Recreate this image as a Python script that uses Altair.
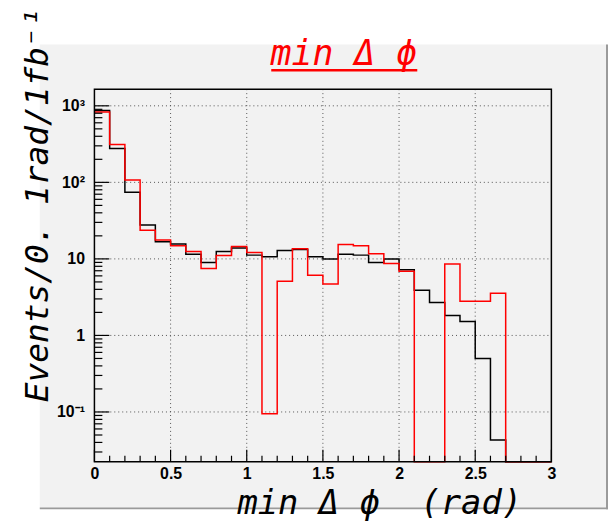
import altair as alt
import pandas as pd

# ---- data (bin width 0.1 rad, 0..3) ----
bin_edges = [0.0, 0.1, 0.2, 0.3, 0.4, 0.5, 0.6, 0.7, 0.8, 0.9, 1.0, 1.1, 1.2, 1.3, 1.4,
             1.5, 1.6, 1.7, 1.8, 1.9, 2.0, 2.1, 2.2, 2.3, 2.4, 2.5, 2.6, 2.7, 2.8, 2.9, 3.0]
black_vals = [870, 277, 74, 27.7, 16.8, 15.7, 11.5, 9.0, 12.5, 13.9, 11.2, 10.7, 12.9, 13.3, 10.7,
              10.0, 11.5, 11.2, 9.0, 10.0, 7.2, 3.9, 2.7, 1.82, 1.52, 0.50, 0.043, 0, 0, 0]
red_vals = [830, 312, 107, 23.6, 17.7, 14.9, 12.5, 7.5, 11.1, 14.5, 12.1, 0.095, 5.1, 13.6, 6.1,
            4.7, 15.4, 14.9, 11.7, 8.7, 6.9, 0, 0, 8.6, 2.8, 2.8, 3.56, 0, 0, 0]

x_major = [0, 0.5, 1, 1.5, 2, 2.5, 3]
x_minor = [0.1, 0.2, 0.3, 0.4, 0.6, 0.7, 0.8, 0.9, 1.1, 1.2, 1.3, 1.4, 1.6, 1.7, 1.8, 1.9,
           2.1, 2.2, 2.3, 2.4, 2.6, 2.7, 2.8, 2.9]
y_major = [0.1, 1, 10, 100, 1000]
y_minor = [0.03, 0.04, 0.05, 0.06, 0.07, 0.08, 0.09,
           0.2, 0.3, 0.4, 0.5, 0.6, 0.7, 0.8, 0.9,
           2, 3, 4, 5, 6, 7, 8, 9,
           20, 30, 40, 50, 60, 70, 80, 90,
           200, 300, 400, 500, 600, 700, 800, 900]

YMIN, YMAX = 0.0224, 1650
W, H = 460, 375
TITLE_FONT = "DejaVu Sans Mono"
LABEL_FONT = "Liberation Sans"
NB = "\u00a0"

rows = []
for name, vals in (("black", black_vals), ("red", red_vals)):
    for i, e in enumerate(bin_edges):
        v = vals[i] if i < len(vals) else vals[-1]
        rows.append({"x": e, "v": v, "series": name})
df = pd.DataFrame(rows)

xscale = alt.Scale(domain=[0, 3], nice=False, zero=False)
yscale = alt.Scale(type="log", domain=[YMIN, YMAX], nice=False)
one = alt.Data(values=[{"a": 1}])

label_expr = ("datum.value == 1000 ? '10\u00b3' : datum.value == 100 ? '10\u00b2' : "
              "datum.value == 10 ? '10' : datum.value == 1 ? '1' : '10\u207b\u00b9'")

xaxis = alt.Axis(
    values=x_major, format="~g", grid=False, ticks=False, domain=False, zindex=1,
    labelFont=LABEL_FONT, labelFontWeight="bold", labelFontSize=16, labelColor="black",
    labelPadding=4, labelFlush=False, labelOverlap=False,
    title=f"min{NB}\u0394{NB}\u03d5{NB}{NB}(rad)", titleFont=TITLE_FONT, titleFontStyle="italic",
    titleFontWeight="normal", titleFontSize=34, titleColor="black",
    titleX=430, titleY=52, titleAlign="right", titleBaseline="alphabetic")
yaxis = alt.Axis(
    values=y_major, grid=False, ticks=False, domain=False, zindex=1,
    labelFont=LABEL_FONT, labelFontWeight="bold", labelFontSize=16, labelColor="black",
    labelPadding=10, labelOverlap=False, labelExpr=label_expr,
    title="Events/0. 1rad/1fb\u207b\u00b9", titleFont=TITLE_FONT, titleFontStyle="italic",
    titleFontWeight="normal", titleFontSize=33, titleColor="black",
    titleX=-47, titleY=116, titleAngle=270, titleAlign="center",
    titleBaseline="alphabetic")

# background panel
panel = alt.Chart(one).mark_rect(color="#f2f2f2").encode(
    x=alt.value(-55), x2=alt.value(516), y=alt.value(-45), y2=alt.value(422))
panel_r = alt.Chart(one).mark_rule(color="#9a9a9a", strokeWidth=2).encode(
    x=alt.value(516), y=alt.value(-45), y2=alt.value(423))
panel_b = alt.Chart(one).mark_rule(color="#9a9a9a", strokeWidth=2).encode(
    x=alt.value(-55), x2=alt.value(517), y=alt.value(422))

# grid
xgrid = alt.Chart(pd.DataFrame({"x": x_major[1:-1]})).mark_rule(
    color="#555555", strokeDash=[1, 3], strokeWidth=1).encode(
    x=alt.X("x:Q", scale=xscale, axis=xaxis), y=alt.value(0), y2=alt.value(H))
ygrid = alt.Chart(pd.DataFrame({"yv": y_major})).mark_rule(
    color="#555555", strokeDash=[1, 3], strokeWidth=1).encode(
    y=alt.Y("yv:Q", scale=yscale, axis=yaxis), x=alt.value(0), x2=alt.value(W))

hist = alt.Chart(df).transform_calculate(
    yv=f"max(datum.v, {YMIN})"
).mark_line(interpolate="step-after", strokeWidth=1.5).encode(
    x=alt.X("x:Q", scale=xscale, axis=xaxis),
    y=alt.Y("yv:Q", scale=yscale, axis=yaxis),
    color=alt.Color("series:N", scale=alt.Scale(domain=["black", "red"],
                                                 range=["#000000", "#ff0000"]), legend=None),
)

# inner ticks (ROOT style)
yt_major = alt.Chart(pd.DataFrame({"yv": y_major})).mark_rule(color="black", strokeWidth=1.2).encode(
    y=alt.Y("yv:Q", scale=yscale, axis=yaxis), x=alt.value(0), x2=alt.value(15))
yt_minor = alt.Chart(pd.DataFrame({"yv": y_minor})).mark_rule(color="black", strokeWidth=1.2).encode(
    y=alt.Y("yv:Q", scale=yscale, axis=yaxis), x=alt.value(0), x2=alt.value(8))
xt_major = alt.Chart(pd.DataFrame({"x": x_major})).mark_rule(color="black", strokeWidth=1.2).encode(
    x=alt.X("x:Q", scale=xscale, axis=xaxis), y=alt.value(H), y2=alt.value(H - 12))
xt_minor = alt.Chart(pd.DataFrame({"x": x_minor})).mark_rule(color="black", strokeWidth=1.2).encode(
    x=alt.X("x:Q", scale=xscale, axis=xaxis), y=alt.value(H), y2=alt.value(H - 6))

frame = alt.Chart(one).mark_rect(fill=None, stroke="black", strokeWidth=1.5).encode(
    x=alt.value(0), x2=alt.value(W), y=alt.value(0), y2=alt.value(H))

title = alt.Chart(one).mark_text(
    text=f"min{NB}\u0394{NB}\u03d5", color="#ff0000", font=TITLE_FONT, fontStyle="italic",
    fontSize=35, align="center", baseline="alphabetic").encode(
    x=alt.value(251), y=alt.value(-24))
underline = alt.Chart(one).mark_rule(color="#ff0000", strokeWidth=2.5).encode(
    x=alt.value(178), x2=alt.value(325), y=alt.value(-19))

chart = alt.layer(
    panel, panel_r, panel_b, xgrid, ygrid, hist,
    yt_major, yt_minor, xt_major, xt_minor, frame, title, underline
).properties(
    width=W, height=H,
    autosize=alt.AutoSizeParams(type="none"),
    padding={"left": 87, "top": 80, "right": 57, "bottom": 60},
    background="white",
).configure_view(stroke=None)

chart.save("out.html", embed_options={"renderer": "svg", "actions": False})
